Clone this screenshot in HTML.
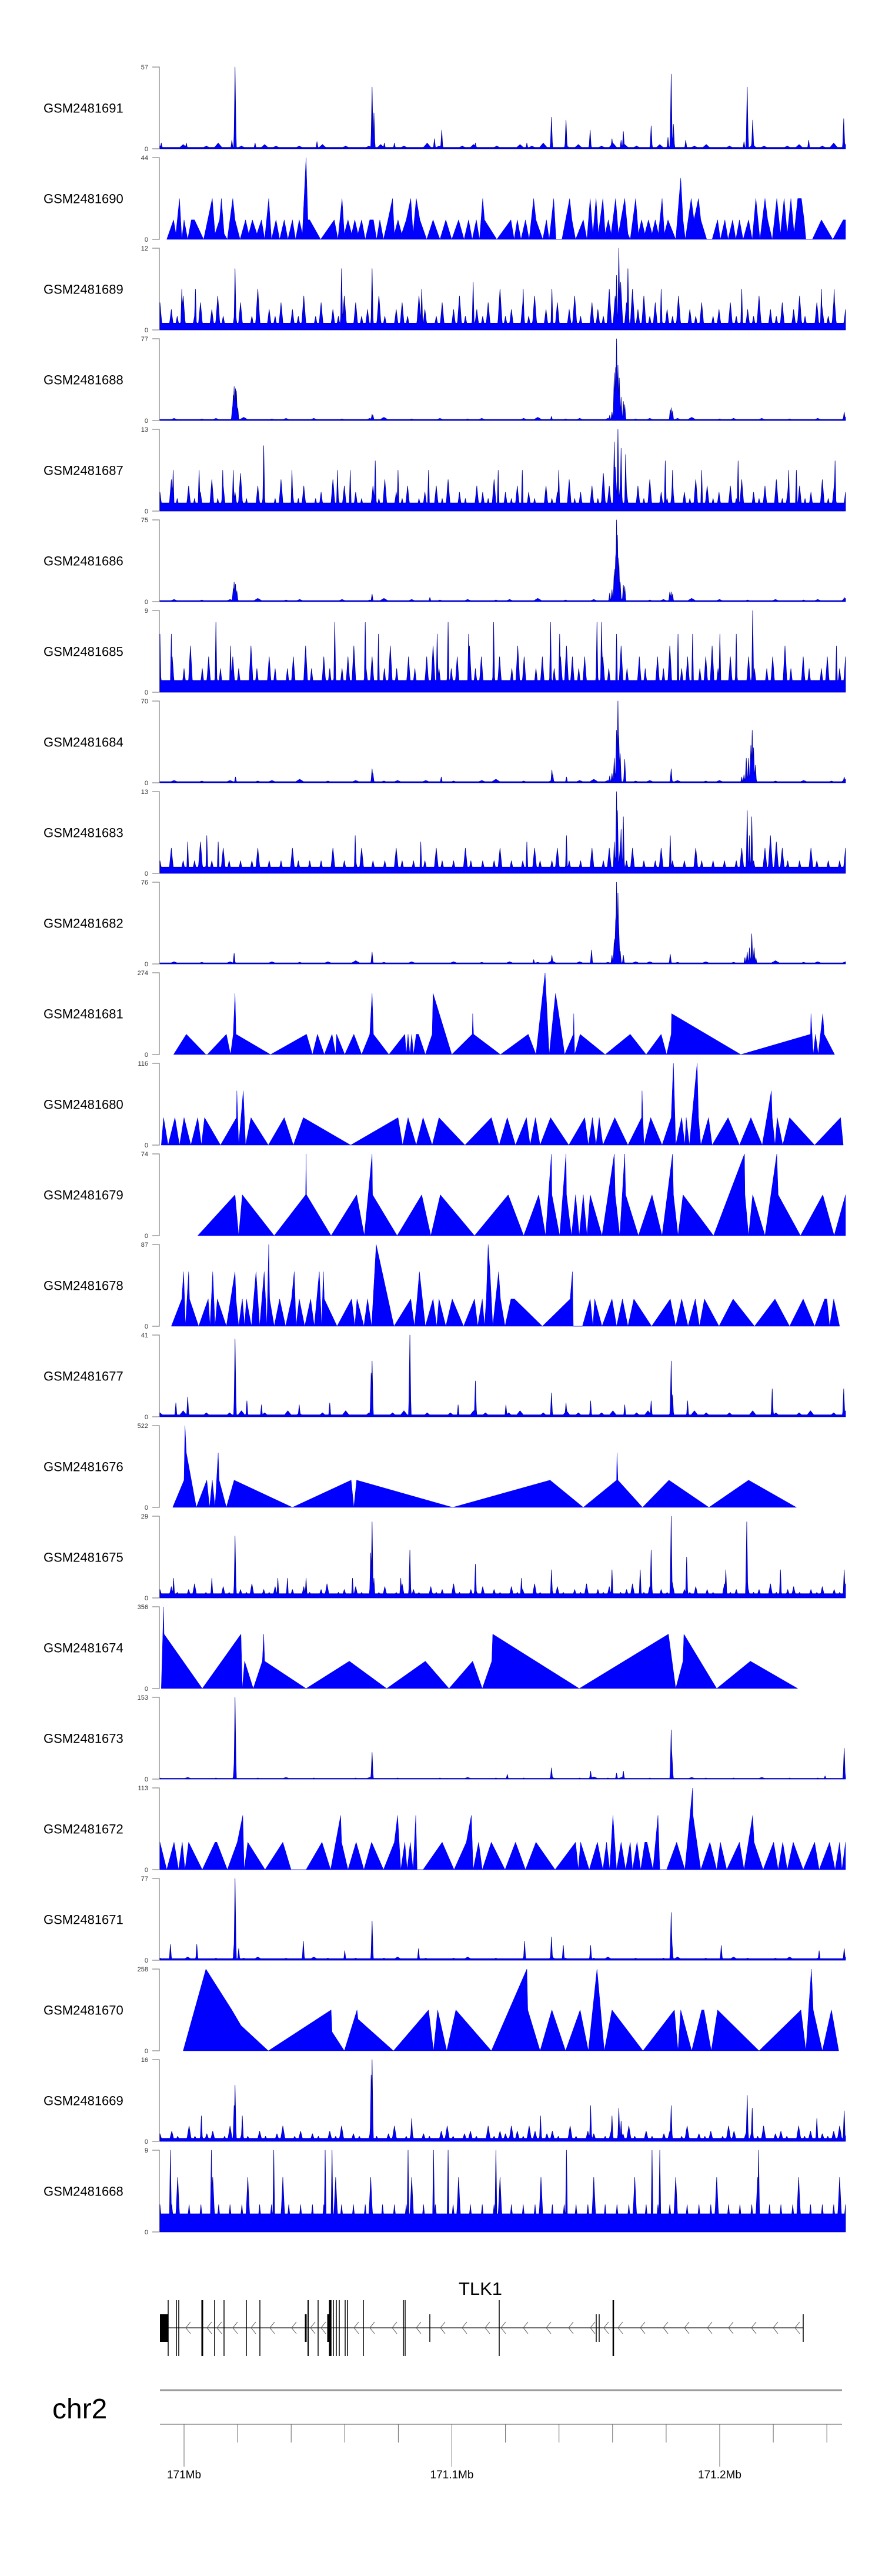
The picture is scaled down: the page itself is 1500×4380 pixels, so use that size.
<!DOCTYPE html>
<html><head><meta charset="utf-8">
<style>
html,body{margin:0;padding:0;background:#fff;}
svg{display:block;font-family:"Liberation Sans",sans-serif;}
</style></head>
<body>
<svg id="chart" width="1500" height="4380" viewBox="0 0 1500 4380" xmlns="http://www.w3.org/2000/svg">
<g id="tracks"></g>
<g id="gene">
  <text x="817" y="3902" font-size="31" text-anchor="middle">TLK1</text>
  <line x1="272" y1="3958" x2="1366" y2="3958" stroke="#444" stroke-width="1.5"/>
</g>
<g id="axis">
  <text x="89" y="4112" font-size="48">chr2</text>
  <line x1="272" y1="4064" x2="1432" y2="4064" stroke="#999" stroke-width="3"/>
  <line x1="272" y1="4122" x2="1432" y2="4122" stroke="#aaa" stroke-width="2"/>
</g>
</svg>
<script>
// ---- data (positions in bins 27..1533 across region, values in coverage units) ----
const sampleNames=["GSM2481691","GSM2481690","GSM2481689","GSM2481688","GSM2481687","GSM2481686","GSM2481685","GSM2481684","GSM2481683","GSM2481682","GSM2481681","GSM2481680","GSM2481679","GSM2481678","GSM2481677","GSM2481676","GSM2481675","GSM2481674","GSM2481673","GSM2481672","GSM2481671","GSM2481670","GSM2481669","GSM2481668"];
const sampleMax=[57,44,12,77,13,75,9,70,13,76,274,116,74,87,41,522,29,356,153,113,77,258,16,9];
const trackFloor=[1,0,1,1,1.3,1,1.3,1,1,1,0,0,0,0,1,0,1.5,0,1.5,0,1.5,0,0.6,2];

const t0_base=[2,1,3,1,2,4,1,2,1,3,2,1,2,1,3,1,2,1,2,3,1,2,1,4,2,1,2,3,1,2,1,3,2,4,1,2,3,1,2,4,3,2,1,3,2,1,2,3,1,2,1,3,2,1,2,3,1,2,4,3];
const t0_peakBin=[192,185,493,497,630,646,887,919,972,1045,1040,1020,1106,1143,1150,1155,1182,1317,1329,1310,1452,1529,30,85,236,372,520,542,720,833];
const t0_peakVal=[57,6,43,25,7,13,22,20,13,12,6,7,16,8,52,17,6,43,20,5,6,21,4,4,4,5,4,4,4,4];

const t1_vBin=[42,57,62,70,75,80,88,96,103,123,142,148,158,162,168,175,187,192,203,215,222,230,240,250,257,266,272,282,290,300,308,318,325,333,340,348,352,356,380,410,418,427,432,440,448,455,462,470,478,488,496,503,510,518,528,538,542,550,558,568,578,583,590,598,613,627,642,655,668,683,695,705,713,722,729,736,740,767,798,805,812,820,830,838,848,853,868,876,882,892,897,910,927,932,940,957,965,972,978,985,990,1000,1005,1012,1018,1028,1034,1048,1055,1060,1072,1078,1085,1092,1100,1108,1115,1122,1130,1135,1143,1160,1171,1176,1181,1194,1200,1210,1215,1228,1240,1252,1258,1268,1275,1285,1292,1300,1308,1320,1328,1336,1345,1356,1362,1372,1382,1390,1398,1405,1413,1420,1428,1436,1442,1446,1460,1480,1505,1528,1533];
const t1_vVal=[0,10.5,3,22,0,10.5,0,10.5,10.5,0,22,3,10.5,22,3,0,22,10.5,0,10.5,3,10.5,3,10.5,0,22,0,10.5,0,10.5,0,10.5,0,10.5,3,44,10.5,10.5,0,10.5,0,22,3,10.5,3,10.5,3,10.5,0,10.5,10.5,0,10.5,0,10.5,22,3,10.5,3,10.5,22,3,22,10.5,0,10.5,0,10.5,0,10.5,0,10.5,0,10.5,0,22,10.5,0,10.5,0,10.5,0,10.5,0,22,10.5,0,10.5,0,22,0,0,22,10.5,0,10.5,0,22,3,22,3,22,3,10.5,3,22,3,22,3,0,22,3,10.5,3,10.5,3,10.5,3,22,3,10.5,0,33,10.5,0,22,10.5,22,10.5,0,0,10.5,0,10.5,0,10.5,0,10.5,0,10.5,0,22,0,22,10.5,0,22,3,22,3,22,3,22,22,10.5,0,0,10.5,0,10.5,10.5];

const t2_base=[4,1,3,2,5,1,2,4,1,3,5,2,1,3,4,1,2,6,1,3,2,4,1,3,2,5,1,2,4,1,3,2,5,1,4,2,3,1,5,2,1,3,4,2,1,5,3,1,2,4,1,3,5,2,1,3,2,4,1,6,2,3,1,4,2,5,1,3,2,4,1,3,5,2,1,4,3,2,6,5,7,4,6,3,5,2,4,1,3,2,5,1,3,2,4,1,2,3,1,4,2,1,3,2,5,1,3,2,4,1,3,5,2,1,4,3,2,5,1,3];
const t2_peakBin=[192,426,493,1035,1055,1030,75,105,602,715,825,888,1128,1305,1480,1508];
const t2_peakVal=[9,9,9,12,9,8,6,6,6,7,6,6,6,6,6,6];

const t3_base=[1,2,1,1.5,2,1,3,1,1.5,2,1,2,1,1.5,1,2,3,1,1.5,1,2,1,1.5,2,1,1,2,3,1,1.5,2,1,2,1,1.5,2,1,2,3,1,1.5,2,1,2,1,1.5,1,2,1,3];
const t3_peakBin=[186,188,190,193,195,198,493,495,1015,1020,1025,1028,1030,1033,1036,1040,1045,1048,1148,1150,1153,1530,887];
const t3_peakVal=[10,24,32,30,28,12,6,5,5,8,45,50,77,52,40,22,18,15,10,12,9,8,4];

const t4_base=[3,1,5,2,1,4,2,3,1,5,2,4,1,3,6,2,1,4,3,1,2,5,1,3,2,4,1,2,3,1,5,2,4,1,3,2,1,4,2,5,1,3,2,4,1,2,3,1,4,2,5,1,3,2,1,4,3,2,5,1,3,2,4,1,3,2,1,4,2,3,1,5,2,3,1,4,2,6,4,7,5,3,1,4,2,5,1,3,2,4,1,3,2,5,1,4,2,3,1,4,2,5,1,3,2,4,1,5,2,3,1,4,2,3,1,5,2,4,1,3];
const t4_peakBin=[255,1033,1025,1040,1050,500,1137,1297,1510,56,113,165,188,317,417,445,550,617,770,823,903,1153,1217,1408,1425];
const t4_peakVal=[10.4,13,11,10,9,8,8,8,8,6.5,6.5,6.5,6.5,6.5,6.5,6.5,6.5,6.5,6.5,6.5,6.5,6.5,6.5,6.5,6.5];

const t5_base=[1,2,1,1.5,1,2,1,3,1,1.5,2,1,1,2,1,1.5,3,1,2,1,1.5,1,2,1,1.5,2,1,3,1,1.5,1,2,1,2,1,1.5,2,1,3,1,2,1,1.5,1,2,1,1.5,2,1,3];
const t5_peakBin=[188,190,193,196,493,620,1015,1020,1025,1028,1030,1032,1035,1038,1045,1048,1147,1150,1153,1530];
const t5_peakVal=[12,18,16,10,7,4,8,11,30,41,75,61,40,18,15,14,9,9,7,4];

const t6_base=[2.6,1.3,3.9,1.3,2.6,5.1,1.3,2.6,3.9,1.3,2.6,1.3,3.9,2.6,1.3,5.1,2.6,1.3,3.9,2.6,1.3,2.6,3.9,1.3,5.1,2.6,1.3,3.9,2.6,1.3,2.6,3.9,5.1,1.3,2.6,3.9,1.3,2.6,5.1,2.6,1.3,3.9,2.6,1.3,3.9,5.1,2.6,1.3,2.6,3.9,1.3,5.1,2.6,3.9,1.3,2.6,3.9,1.3,2.6,5.1,3.9,1.3,2.6,3.9,1.3,2.6,3.9,5.1,3.9,2.6,3.9,1.3,2.6,3.9,2.6,1.3,5.1,2.6,1.3,3.9,2.6,1.3,3.9,2.6,5.1,1.3,2.6,3.9,1.3,2.6,3.9,5.1,2.6,1.3,3.9,2.6,1.3,3.9,2.6,1.3,2.6,3.9,1.3,5.1,2.6,1.3,3.9,2.6,1.3,2.6,3.9,1.3,2.6,3.9];
const t6_peakBin=[150,411,478,660,760,885,987,997,1329,27,52,182,507,636,705,905,1030,1165,1197,1257,1293,1513];
const t6_peakVal=[7.7,7.7,7.7,7.7,7.7,7.7,7.7,7.7,9,6.4,6.4,5.1,6.4,6.4,6.4,6.4,6.4,6.4,6.4,6.4,6.4,5.1];

const t7_base=[1,2,1,1.5,1,2,1,1.5,2,1,3,1,1.5,1,2,1,1.5,2,1,2,1,1.5,1,2,3,1,1.5,1,2,1,2,3,2,1,1.5,2,1,2,1,1.5,2,1,3,1,1.5,1,2,1,1.5,3];
const t7_peakBin=[193,493,495,645,888,890,920,1015,1020,1025,1030,1033,1035,1038,1048,1150,1305,1310,1315,1320,1325,1328,1331,1335,1530];
const t7_peakVal=[5,12,8,5,11,7,5,6,8,21,45,70,38,25,20,12,5,7,21,21,32,45,30,15,5];

const t8_base=[2,1,4,1,2,1,2,5,1,2,1,4,2,1,2,1,2,4,1,2,1,2,1,4,2,1,2,1,2,1,4,1,2,1,2,4,1,2,1,2,1,4,2,1,2,1,2,1,4,2,1,2,1,4,2,1,2,1,2,4,1,2,1,2,1,4,2,1,2,4,1,2,1,2,1,4,1,2,4,2,5,2,4,1,2,1,2,4,1,2,1,2,1,4,2,1,2,1,2,1,2,4,1,2,1,4,6,5,4,2,1,2,1,4,2,1,2,1,2,4];
const t8_peakBin=[1030,1032,1045,1040,1025,1317,1327,1322,130,155,456,920,1148,88,600,833];
const t8_peakVal=[13,10,9,7,5,10,9,6,6,5,6,6,6,5,5,5];

const t9_base=[1,2,1,1.5,1,2,1,1,2,1,1.5,1,2,1,3,1,1.5,1,2,1,1,2,1,1.5,1,2,1,1.5,3,1,2,1,1.5,1,2,2,1,1.5,1,2,1,1.5,2,1,3,1,1.5,2,1,2];
const t9_peakBin=[190,493,848,888,975,1020,1025,1028,1030,1033,1035,1038,1045,1148,1312,1317,1322,1327,1332,1336];
const t9_peakVal=[10,11,4,8,13,8,23,40,76,66,32,12,8,9,6,11,15,28,15,6];

const t10_vBin=[57,85,128,131,173,182,188,192,194,270,349,362,373,388,405,413,415,433,453,470,488,493,496,530,565,568,572,576,580,584,590,595,610,625,627,668,713,714,716,775,836,853,873,882,896,903,916,935,936,938,950,1005,1060,1095,1128,1140,1150,1151,1303,1456,1457,1462,1467,1473,1483,1486,1509];
const t10_vVal=[0,68,0,0,68,0,68,205,68,0,68,0,68,0,68,0,68,0,68,0,68,205,68,0,68,0,68,0,68,0,68,68,0,68,205,0,68,137,68,0,68,0,274,0,205,137,0,68,137,0,68,0,68,0,68,0,68,137,0,68,137,0,68,0,137,68,0];

const t11_vBin=[30,35,45,60,70,80,95,110,118,125,160,195,196,200,210,215,227,265,300,320,342,446,550,560,572,590,605,625,640,697,755,772,790,808,832,840,852,862,885,925,960,968,977,985,992,1000,1026,1055,1085,1086,1090,1105,1130,1150,1155,1160,1173,1180,1183,1190,1207,1210,1215,1232,1240,1275,1300,1325,1350,1370,1372,1378,1383,1395,1410,1465,1522,1528];
const t11_vVal=[0,39,0,39,0,39,0,39,0,39,0,39,77,0,77,0,39,0,39,0,39,0,39,0,39,0,39,0,39,0,39,0,39,0,39,0,39,0,39,0,39,0,39,0,39,0,39,0,39,77,0,39,0,39,116,0,39,0,39,0,116,39,0,39,0,39,0,39,0,77,39,0,39,0,39,0,39,0];

const t12_vBin=[110,192,200,208,278,347,348,349,403,459,476,493,494,548,602,622,643,718,792,826,859,874,887,888,905,919,920,931,940,948,957,965,972,998,1025,1027,1037,1048,1050,1078,1108,1130,1153,1155,1165,1176,1243,1311,1312,1320,1329,1356,1382,1385,1434,1483,1508,1533];
const t12_vVal=[0,37,0,37,0,37,74,37,0,37,0,74,37,0,37,0,37,0,37,0,37,0,74,37,0,74,37,0,37,0,37,0,37,0,74,37,0,74,37,0,37,0,74,37,0,37,0,74,37,0,37,0,74,37,0,37,0,37];

const t13_vBin=[52,75,79,83,90,92,112,133,137,143,148,153,173,192,194,200,208,213,217,228,238,246,256,262,266,268,278,290,303,316,322,326,333,345,358,366,377,382,386,388,416,448,455,460,475,483,492,502,541,578,586,592,597,610,627,635,640,655,669,694,718,725,735,740,744,748,752,758,771,775,785,798,806,867,928,933,935,955,972,978,982,998,1020,1030,1043,1055,1068,1107,1148,1160,1173,1187,1203,1212,1223,1255,1286,1333,1378,1410,1440,1465,1487,1492,1498,1507,1520];
const t13_vVal=[0,29,58,0,58,29,0,29,0,58,0,29,0,58,29,0,29,0,29,0,58,0,58,0,87,29,0,29,0,29,58,0,29,0,29,0,58,0,58,29,0,29,0,29,0,29,0,87,0,29,0,29,58,0,29,0,29,0,29,0,29,0,29,0,29,87,58,0,58,29,0,29,29,0,29,58,0,0,29,0,29,0,29,0,29,0,29,0,29,0,29,0,29,0,29,0,29,0,29,0,29,0,29,29,0,29,0];

const t14_base=[2,1,3,1,2,1,2,3,1,2,1,3,2,1,2,1,3,1,2,1,2,3,1,2,1,2,1,3,2,1,2,3,1,2,1,3,2,1,2,3,1,2,3,1,2,1,3,2,1,2,1,3,1,2,1,2,3,1,2,3];
const t14_peakBin=[192,576,493,491,720,887,1150,1153,1372,1529,88,62,218,400,1106,1186,919,973,1048,250,333,682,787];
const t14_peakVal=[39,41,28,22,18,12,28,11,14,14,10,7,8,7,8,8,7,8,6,6,6,6,6];

const t15_vBin=[55,80,82,85,107,130,136,142,148,155,157,173,190,318,447,453,459,670,884,957,1030,1031,1033,1087,1145,1233,1320,1425];
const t15_vVal=[0,174,522,348,0,174,0,174,0,348,174,0,174,0,174,0,174,0,174,0,174,348,174,0,174,0,174,0];

const t16_base=[3,1,4,2,1,3,5,1,2,3,1,4,2,1,3,2,5,1,3,2,4,1,2,3,1,4,2,1,3,5,1,2,3,1,4,2,1,3,2,4,1,2,5,1,3,2,1,4,2,3,1,5,2,1,3,2,4,1,3,2,1,4,2,3,1,5,2,1,3,4,2,1,3,2,5,1,3,2,4,1,2,3,5,1,2,4,1,3,2,5,1,3,2,4,1,3,2,1,5,2,3,1,4,2,3,1,5,2,1,3,4,2,1,3,2,4,1,3,2,5];
const t16_peakBin=[192,493,490,576,720,887,1106,1150,1184,1316,1082,1270,1390,1530,1020,57,141,286,307,348,450,497,556,821];
const t16_peakVal=[22,27,16,17,12,10,17,29,14.5,27,10,10,10,10,10,7,7,7,7,7,7,7,7,7];

const t17_vBin=[30,35,36,120,205,208,213,232,252,255,257,348,443,525,610,662,714,735,756,758,948,1144,1160,1176,1178,1250,1324,1428];
const t17_vVal=[0,356,237,0,237,0,119,0,119,237,119,0,119,0,119,0,119,0,119,237,0,237,0,119,237,0,119,0];

const t18_base=[2,1,3,1,2,1,1,2,1,3,1,2,1,1,2,3,1,2,1,1,2,1,3,1,2,1,2,1,3,1,2,4,2,3,1,2,1,1,3,2,1,2,1,3,1,2,1,2,1,3];
const t18_peakBin=[192,190,493,1150,1152,1530,887,973,1045,1030,790,1488];
const t18_peakVal=[153,20,50,92,40,58,21,15,15,11,9,6];

const t19_vBin=[27,42,58,68,76,82,90,120,148,152,175,197,209,212,220,258,297,315,348,383,402,424,426,440,458,475,492,518,542,549,556,565,570,577,583,589,592,605,647,673,700,711,715,727,735,755,785,808,830,853,895,940,946,951,970,988,1000,1008,1015,1022,1030,1040,1050,1060,1065,1075,1083,1092,1097,1110,1121,1125,1140,1162,1180,1197,1198,1215,1235,1250,1258,1272,1300,1310,1329,1332,1352,1375,1385,1395,1405,1418,1440,1465,1475,1498,1510,1520,1525,1533];
const t19_vVal=[38,0,38,0,38,0,38,0,38,38,0,38,75,0,38,0,38,0,0,38,0,75,38,0,38,0,38,0,38,75,0,38,0,38,0,75,0,0,38,0,38,75,0,38,0,38,0,38,0,38,0,38,0,38,0,38,0,38,0,75,0,38,0,38,0,38,0,38,38,0,75,0,0,38,0,113,75,0,38,0,38,0,38,0,75,38,0,38,0,38,0,38,0,38,0,38,0,38,0,38];

const t20_base=[2,1,3,1,2,1,2,3,1,2,1,3,2,1,2,1,2,3,1,2,1,2,3,1,2,1,2,1,3,2,1,2,3,1,2,1,2,3,1,2,1,3,2,1,2,3,1,2,1,3];
const t20_peakBin=[192,190,493,1150,1152,887,828,342,913,973,1260,108,50,200,595,1530,433,1475];
const t20_peakVal=[77,15,37,45,15,22,18,18,14,14,14,15,15,11,11,11,9,9];

const t21_vBin=[78,128,185,205,265,403,405,432,460,462,540,617,628,637,657,677,755,833,835,862,888,918,950,968,987,1003,1020,1088,1157,1165,1171,1195,1217,1222,1238,1252,1343,1435,1446,1458,1462,1482,1502,1518];
const t21_vVal=[0,258,129,80,0,129,60,0,129,100,0,129,0,129,0,129,0,258,129,0,129,0,129,0,258,0,129,0,129,0,129,0,129,129,0,129,0,129,0,258,129,0,129,0];

const t22_base=[1.5,0.5,2,1,0.5,3,1,0.5,1.5,2,0.5,1,3,0.5,1.5,1,0.5,2,1,0.5,1.5,3,0.5,1,2,0.5,1.5,1,0.5,2,1,3,0.5,1.5,1,0.5,2,1,0.5,1.5,3,0.5,1,2,0.5,1.5,1,0.5,2,3,1,0.5,1.5,2,1,0.5,3,1,2,1.5,3,2,1,3,2,0.5,1.5,2,1,0.5,3,1,0.5,2,1.5,0.5,1,2,0.5,1.5,3,1,0.5,2,1,0.5,1.5,2,0.5,1,3,0.5,1.5,1,2,0.5,1,3,2,0.5,1.5,2,1,3,0.5,1.5,2,1,0.5,3,1,2,0.5,1.5,1,2,3,1];
const t22_peakBin=[493,491,192,190,118,208,973,1035,1150,1317,1328,1530,863,580,1040,1020,1470];
const t22_peakVal=[16,13,11,7,5,5,7,6.5,7,9,6.5,6,5,4.5,4,5,4.5];

const t23_base=[3,1.5,3,6,2,3,1.5,3,2,6,3,1.5,3,2,3,6,1,3,2,3,1.5,6,3,2,3,1.5,3,0,3,2,6,3,1.5,3,2,3,6,1.5,3,2,3,1.5,3,6,2,3,1.5,3,2,0,3,6,1.5,3,2,3,1.5,3,6,2,3,1.5,3,2,3,6,1.5,3,2,3,1.5,3,0,3,6,2,3,1.5,3,2,3,6,1.5,3,2,3,1.5,3,6,2,3,1.5,3,2,3,6,1.5,3,0,3,2,3,6,1.5,3,2,3,1.5,3,6,2,3,1.5,3,2,3,6,3];
const t23_peakBin=[50,140,277,390,405,572,628,660,765,920,1108,1125,1342];
const t23_peakVal=[9,9,9,9,9,9,9,9,9,9,9,9,9];

const trackBase=[t0_base,null,t2_base,t3_base,t4_base,t5_base,t6_base,t7_base,t8_base,t9_base,null,null,null,null,t14_base,null,t16_base,null,t18_base,null,t20_base,null,t22_base,t23_base];
const trackPeakBin=[t0_peakBin,null,t2_peakBin,t3_peakBin,t4_peakBin,t5_peakBin,t6_peakBin,t7_peakBin,t8_peakBin,t9_peakBin,null,null,null,null,t14_peakBin,null,t16_peakBin,null,t18_peakBin,null,t20_peakBin,null,t22_peakBin,t23_peakBin];
const trackPeakVal=[t0_peakVal,null,t2_peakVal,t3_peakVal,t4_peakVal,t5_peakVal,t6_peakVal,t7_peakVal,t8_peakVal,t9_peakVal,null,null,null,null,t14_peakVal,null,t16_peakVal,null,t18_peakVal,null,t20_peakVal,null,t22_peakVal,t23_peakVal];
const trackVBin=[null,t1_vBin,null,null,null,null,null,null,null,null,t10_vBin,t11_vBin,t12_vBin,t13_vBin,null,t15_vBin,null,t17_vBin,null,t19_vBin,null,t21_vBin,null,null];
const trackVVal=[null,t1_vVal,null,null,null,null,null,null,null,null,t10_vVal,t11_vVal,t12_vVal,t13_vVal,null,t15_vVal,null,t17_vVal,null,t19_vVal,null,t21_vVal,null,null];

// gene model (x positions in pixels along genome axis)
const exonTall=[286,300,304,344,365,381,419,442,524,541,561,563,567,572,577,587,591,618,686,689,849,1043];
const exonTallW=[1.5,1.5,1.5,3,1.5,1.5,1.5,1.5,2,1.5,3,1.5,1.5,1.5,1.5,1.5,1.5,1.5,1.5,1.5,1.5,2.5];
const exonMid=[520,558,731,1014,1019,1366];
const exonMidW=[3,3,1.5,1.5,1.5,1.5];
const chevrons=[320,356,373,400,431,463,500,532,550,606,633,671,712,753,790,829,856,894,933,971,1008,1031,1055,1093,1132,1168,1207,1243,1282,1319,1356];
// genome axis ticks (kb)
const tickKb=[171000,171020,171040,171060,171080,171100,171120,171140,171160,171180,171200,171220,171240];
const majorTickKb=[171000,171100,171200];
const majorTickLabels=["171Mb","171.1Mb","171.2Mb"];

// ---- scales ----
const NS="http://www.w3.org/2000/svg";
const BIN0=27, BIN1=1533, X0=272, X1=1438;
function xScale(b){return X0+(b-BIN0)/(BIN1-BIN0)*(X1-X0);}
const TOP0=114, PITCH=154, H=139;
function yScale(i,v){const bottom=TOP0+PITCH*i+H;return bottom-Math.min(v,sampleMax[i])/sampleMax[i]*H;}
function kbX(kb){return 313+(kb-171000)*4.555;}
function mk(tag,attrs,parent){const e=document.createElementNS(NS,tag);for(const k in attrs)e.setAttribute(k,attrs[k]);parent.appendChild(e);return e;}

const tracksG=document.getElementById('tracks');
for(let i=0;i<sampleNames.length;i++){
  const top=TOP0+PITCH*i, bottom=top+H;
  const g=mk('g',{},tracksG);
  
  
  const lab=mk('text',{x:74,y:top+H/2+8,'font-size':22,fill:'#000'},g);
  lab.textContent=sampleNames[i];
  
  
  const ax=mk('path',{d:`M259,${top}H271V${bottom}H259`,fill:'none',stroke:'#888','stroke-width':1.3},g);
  
  
  const tmax=mk('text',{x:252,y:top+4,'font-size':11,'text-anchor':'end',fill:'#333'},g);
  tmax.textContent=sampleMax[i];
  
  
  const tmin=mk('text',{x:252,y:bottom+4,'font-size':11,'text-anchor':'end',fill:'#333'},g);
  tmin.textContent='0';
  
  

  const N=BIN1-BIN0+1;
  const prof=new Array(N).fill(trackFloor[i]);
  const base=trackBase[i];
  function addSpike(idxC,val,hw){
    for(let d=-hw;d<=hw;d++){
      const idx=idxC+d;
      if(idx<0||idx>=N)continue;
      const v=val*(1-Math.abs(d)/(hw+0.5));
      if(v>prof[idx])prof[idx]=v;
    }
  }
  if(base){
    const n=base.length;
    const hw=Math.max(2,Math.round((N-1)/(n-1)*0.4));
    for(let k=0;k<n;k++){
      const c=Math.round(k/(n-1)*(N-1));
      addSpike(c,base[k],hw);
    }
  }
  const pb=trackPeakBin[i], pv=trackPeakVal[i];
  if(pb){
    for(let j=0;j<pb.length;j++)addSpike(pb[j]-BIN0,pv[j],2);
  }
  const vb=trackVBin[i], vv=trackVVal[i];
  let d='';
  if(vb){
    d=`M${xScale(vb[0]).toFixed(1)},${bottom}`;
    for(let j=0;j<vb.length;j++)d+=`L${xScale(vb[j]).toFixed(1)},${yScale(i,vv[j]).toFixed(1)}`;
    d+=`L${xScale(vb[vb.length-1]).toFixed(1)},${bottom}Z`;
  }else{
    d=`M${xScale(BIN0).toFixed(1)},${bottom}`;
    for(let b=0;b<N;b++)d+=`L${xScale(b+BIN0).toFixed(1)},${yScale(i,prof[b]).toFixed(1)}`;
    d+=`L${xScale(BIN1).toFixed(1)},${bottom}Z`;
  }
  const area=mk('path',{d:d,fill:'#0000ff',stroke:vb?'#0000ee':'#00009a','stroke-width':vb?0.5:0.8,'stroke-linejoin':'round'},g);
  
  
}

// gene model
const geneG=document.getElementById('gene');
const firstExon=mk('rect',{x:272,y:3935,width:14,height:47,fill:'#000'},geneG);


for(let j=0;j<exonTall.length;j++){
  const r=mk('rect',{x:exonTall[j]-exonTallW[j]/2,y:3911,width:exonTallW[j],height:95,fill:'#000'},geneG);
  
  
}
for(let j=0;j<exonMid.length;j++){
  const r=mk('rect',{x:exonMid[j]-exonMidW[j]/2,y:3935,width:exonMidW[j],height:47,fill:'#000'},geneG);
  
  
}
for(let j=0;j<chevrons.length;j++){
  const c=chevrons[j];
  const p=mk('path',{d:`M${c+4},3948L${c-4},3958L${c+4},3968`,fill:'none',stroke:'#555','stroke-width':1},geneG);
  
  
}

// axis ticks
const axisG=document.getElementById('axis');
for(let j=0;j<tickKb.length;j++){
  const x=kbX(tickKb[j]);
  const major=majorTickKb.indexOf(tickKb[j])>=0;
  const l=mk('line',{x1:x,y1:4122,x2:x,y2:major?4194:4153,stroke:'#666','stroke-width':1},axisG);
  
  
}
for(let j=0;j<majorTickKb.length;j++){
  const t=mk('text',{x:kbX(majorTickKb[j]),y:4214,'font-size':19,'text-anchor':'middle',fill:'#000'},axisG);
  t.textContent=majorTickLabels[j];
  
  
}
</script>
</body></html>
